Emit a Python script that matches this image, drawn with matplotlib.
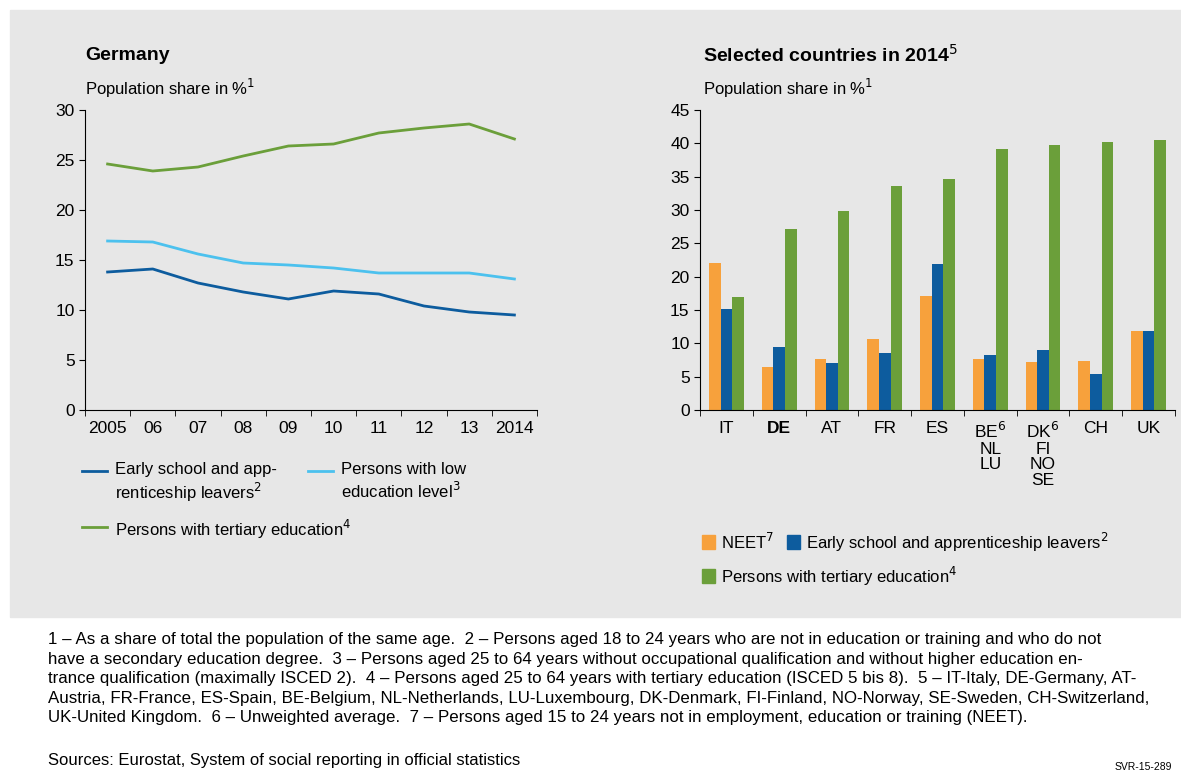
import numpy as np
import matplotlib.pyplot as plt
from matplotlib.patches import Rectangle

plt.rcParams['font.family'] = ['Liberation Sans', 'DejaVu Sans']

years = np.arange(2005, 2015)
year_labels = ['2005', '06', '07', '08', '09', '10', '11', '12', '13', '2014']
early = [13.8, 14.1, 12.7, 11.8, 11.1, 11.9, 11.6, 10.4, 9.8, 9.5]
low_edu = [16.9, 16.8, 15.6, 14.7, 14.5, 14.2, 13.7, 13.7, 13.7, 13.1]
tertiary = [24.6, 23.9, 24.3, 25.4, 26.4, 26.6, 27.7, 28.2, 28.6, 27.1]

countries = ['IT', 'DE', 'AT', 'FR', 'ES', 'BE$^{6}$\nNL\nLU', 'DK$^{6}$\nFI\nNO\nSE', 'CH', 'UK']
neet = [22.1, 6.4, 7.7, 10.7, 17.1, 7.7, 7.2, 7.3, 11.9]
early_c = [15.1, 9.5, 7.0, 8.5, 21.9, 8.2, 9.0, 5.4, 11.8]
tert_c = [17.0, 27.2, 29.9, 33.6, 34.6, 39.1, 39.7, 40.2, 40.5]

bg = '#e7e7e7'
c_dark = '#0d5c9e'
c_light = '#4cc1ee'
c_green = '#6b9f3a'
c_orange = '#f7a13c'

fig = plt.figure(figsize=(11.81, 7.74), dpi=100)
fig.patches.append(Rectangle((10/1181, 1-617/774), 1171/1181, 607/774,
                             transform=fig.transFigure, color=bg, zorder=-1))

def style(ax):
    ax.set_facecolor(bg)
    for s in ['top', 'right']:
        ax.spines[s].set_visible(False)
    ax.tick_params(labelsize=12.5, length=4)

# left
ax1 = fig.add_axes([85/1181, 1-410/774, 452/1181, 300/774])
style(ax1)
ax1.plot(years, early, color=c_dark, lw=2)
ax1.plot(years, low_edu, color=c_light, lw=2)
ax1.plot(years, tertiary, color=c_green, lw=2)
ax1.set_xlim(2004.5, 2014.5)
ax1.set_ylim(0, 30)
ax1.set_yticks(range(0, 31, 5))
ax1.set_xticks(years)
ax1.set_xticklabels(year_labels)
ax1.set_xticks(np.arange(2004.5, 2015, 1), minor=True)
ax1.tick_params(axis='x', which='major', length=0, pad=8)
ax1.tick_params(axis='x', which='minor', length=4)
fig.text(85/1181, 1-55/774, 'Germany', fontsize=14, fontweight='bold', va='center')
fig.text(85/1181, 1-88/774, 'Population share in %$^{1}$', fontsize=12, va='center')

# left legend
def legline(x, y, col, txt):
    fig.lines.append(plt.Line2D([x/1181, (x+25)/1181], [1-y/774]*2, color=col, lw=2,
                                transform=fig.transFigure))
    fig.text((x+33)/1181, 1-(y-9)/774, txt, fontsize=12, va='top')
legline(82, 471, c_dark, 'Early school and app-\nrenticeship leavers$^{2}$')
legline(308, 471, c_light, 'Persons with low\neducation level$^{3}$')
legline(82, 527, c_green, 'Persons with tertiary education$^{4}$')

# right
ax2 = fig.add_axes([700/1181, 1-410/774, 475/1181, 300/774])
style(ax2)
x = np.arange(len(countries))
w = 0.22
ax2.bar(x - w, neet, w, color=c_orange)
ax2.bar(x, early_c, w, color=c_dark)
ax2.bar(x + w, tert_c, w, color=c_green)
ax2.set_xlim(-0.5, len(countries) - 0.5)
ax2.set_ylim(0, 45)
ax2.set_yticks(range(0, 46, 5))
ax2.set_xticks(x)
ax2.set_xticklabels(countries, va='top', linespacing=1.05)
ax2.get_xticklabels()[1].set_fontweight('bold')
ax2.set_xticks(np.arange(-0.5, len(countries), 1), minor=True)
ax2.tick_params(axis='x', which='major', length=0, pad=8)
ax2.tick_params(axis='x', which='minor', length=4)
fig.text(703/1181, 1-55/774, 'Selected countries in 2014$^{5}$', fontsize=14, fontweight='bold', va='center')
fig.text(703/1181, 1-88/774, 'Population share in %$^{1}$', fontsize=12, va='center')

def legbox(x, y, col, txt):
    fig.patches.append(Rectangle((x/1181, 1-(y+7)/774), 13/1181, 14/774, color=col,
                                 transform=fig.transFigure))
    fig.text((x+19)/1181, 1-y/774, txt, fontsize=12, va='center')
legbox(702, 542, c_orange, 'NEET$^{7}$')
legbox(787, 542, c_dark, 'Early school and apprenticeship leavers$^{2}$')
legbox(702, 576, c_green, 'Persons with tertiary education$^{4}$')

notes = ("1 – As a share of total the population of the same age.  2 – Persons aged 18 to 24 years who are not in education or training and who do not\n"
         "have a secondary education degree.  3 – Persons aged 25 to 64 years without occupational qualification and without higher education en-\n"
         "trance qualification (maximally ISCED 2).  4 – Persons aged 25 to 64 years with tertiary education (ISCED 5 bis 8).  5 – IT-Italy, DE-Germany, AT-\n"
         "Austria, FR-France, ES-Spain, BE-Belgium, NL-Netherlands, LU-Luxembourg, DK-Denmark, FI-Finland, NO-Norway, SE-Sweden, CH-Switzerland,\n"
         "UK-United Kingdom.  6 – Unweighted average.  7 – Persons aged 15 to 24 years not in employment, education or training (NEET).")
fig.text(48/1181, 1-632/774, notes, fontsize=12.2, va='top', linespacing=1.38)
fig.text(48/1181, 1-760/774, 'Sources: Eurostat, System of social reporting in official statistics', fontsize=12, va='center')
fig.text(1115/1181, 1-767/774, 'SVR-15-289', fontsize=7.5, va='center')

fig.savefig('out.png', dpi=100)
